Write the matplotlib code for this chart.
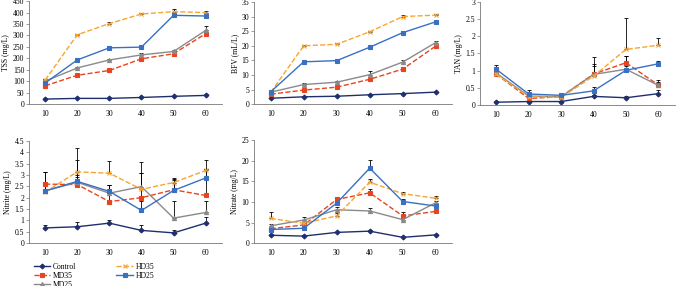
import matplotlib.pyplot as plt
import numpy as np

days = [10, 20, 30, 40, 50, 60]
groups = ["Control", "MD35", "MD25", "HD35", "HD25"]

# values, per group: Control, MD35, MD25, HD35, HD25
tss = [[22, 25, 25, 29, 34, 38],
       [80, 126, 147, 198, 220, 308],
       [100, 158, 193, 215, 230, 322],
       [105, 303, 352, 394, 404, 400],
       [92, 193, 246, 249, 388, 385]]
tss_err = [[3, 3, 3, 3, 3, 4],
           [5, 5, 5, 6, 6, 8],
           [8, 5, 5, 10, 6, 19],
           [5, 5, 5, 6, 11, 8],
           [5, 6, 7, 6, 6, 8]]

bfv = [[2.0, 2.5, 2.7, 3.2, 3.6, 4.1],
       [3.4, 4.8, 5.8, 8.5, 12.0, 19.9],
       [4.1, 6.7, 7.5, 10.1, 14.4, 21.1],
       [4.0, 20.0, 20.5, 24.8, 30.0, 30.5],
       [4.2, 14.5, 14.9, 19.5, 24.5, 28.2]]
bfv_err = [[0.2, 0.2, 0.2, 0.2, 0.2, 0.2],
           [0.3, 0.4, 0.4, 0.5, 0.6, 0.6],
           [0.4, 0.4, 0.4, 1.1, 0.6, 0.6],
           [0.3, 0.4, 0.4, 0.4, 0.6, 0.4],
           [0.3, 0.4, 0.4, 0.4, 0.4, 0.4]]

tan = [[0.08, 0.10, 0.10, 0.25, 0.21, 0.33],
       [0.90, 0.19, 0.24, 0.90, 1.23, 0.58],
       [0.93, 0.26, 0.24, 0.89, 1.04, 0.57],
       [0.90, 0.24, 0.22, 0.84, 1.62, 1.74],
       [1.04, 0.32, 0.28, 0.41, 1.01, 1.20]]
tan_err = [[0.04, 0.03, 0.03, 0.03, 0.04, 0.10],
           [0.10, 0.05, 0.05, 0.28, 0.20, 0.10],
           [0.10, 0.05, 0.05, 0.25, 0.10, 0.15],
           [0.10, 0.05, 0.05, 0.56, 0.91, 0.22],
           [0.11, 0.13, 0.06, 0.10, 0.42, 0.08]]

nitrite = [[0.67, 0.72, 0.88, 0.56, 0.45, 0.88],
           [2.60, 2.58, 1.83, 2.00, 2.35, 2.10],
           [2.30, 2.68, 2.20, 2.49, 1.10, 1.35],
           [2.25, 3.14, 3.08, 2.37, 2.67, 3.20],
           [2.30, 2.72, 2.28, 1.44, 2.32, 2.87]]
nitrite_err = [[0.13, 0.23, 0.12, 0.24, 0.13, 0.27],
               [0.52, 1.10, 0.74, 1.07, 0.45, 1.15],
               [0.82, 0.30, 0.37, 1.08, 0.75, 0.50],
               [0.30, 1.06, 0.52, 0.70, 0.18, 0.45],
               [0.25, 0.20, 0.30, 0.40, 0.50, 0.38]]

nitrate = [[1.9, 1.7, 2.6, 2.9, 1.4, 2.0],
           [3.5, 4.4, 10.6, 12.2, 6.6, 7.7],
           [4.2, 5.6, 8.1, 7.8, 5.7, 9.8],
           [6.0, 4.8, 6.6, 14.8, 12.0, 10.9],
           [3.3, 3.6, 9.7, 18.2, 10.1, 9.0]]
nitrate_err = [[0.2, 0.2, 0.2, 0.3, 0.2, 0.2],
               [0.4, 0.5, 0.5, 1.0, 0.9, 0.5],
               [0.4, 0.8, 0.6, 0.7, 0.4, 0.5],
               [1.5, 0.5, 0.6, 0.8, 0.5, 0.6],
               [0.4, 0.4, 0.5, 1.9, 0.5, 0.5]]

colors = ["#1f2f6e", "#e8451f", "#8a8a8a", "#f7a531", "#3a70c2"]
styles = ["-", "--", "-", "--", "-"]
markers = ["D", "s", "^", "x", "s"]
msizes = [2.5, 3, 3, 3.5, 2.5]

plt.rcParams['font.family'] = ['Liberation Serif', 'DejaVu Serif']
plt.rcParams['font.size'] = 5.5

fig = plt.figure(figsize=(6.76, 2.86), dpi=100)


def panel(rect, data, err, ylabel, ymax, ystep):
    ax = fig.add_axes(rect)
    lines = []
    for i in range(5):
        ax.errorbar(days, data[i], yerr=[np.zeros(6), err[i]], fmt='none',
                    ecolor='black', elinewidth=0.6, capsize=1.3, capthick=0.6, zorder=1)
        ln, = ax.plot(days, data[i], linestyle=styles[i], color=colors[i],
                      marker=markers[i], markersize=msizes[i], linewidth=1.0,
                      markeredgewidth=0.8, label=groups[i], zorder=2)
        lines.append(ln)
    ax.set_xlim(5, 65)
    ax.set_ylim(0, ymax)
    ax.set_xticks(days)
    ax.set_yticks(np.arange(0, ymax + ystep / 2, ystep))
    ax.set_yticklabels([("%g" % v) for v in np.arange(0, ymax + ystep / 2, ystep)])
    ax.set_ylabel(ylabel, fontsize=5.5, labelpad=2)
    for s in ["top", "right"]:
        ax.spines[s].set_visible(False)
    for s in ["left", "bottom"]:
        ax.spines[s].set_color("#777777")
        ax.spines[s].set_linewidth(0.6)
    ax.tick_params(axis='x', length=0, pad=4, labelsize=5.5)
    ax.tick_params(axis='y', length=2, width=0.5, color="#777777", pad=1.5, labelsize=5.5)
    return lines


lines = panel([0.043, 0.636, 0.285, 0.36], tss, tss_err, "TSS (mg/L)", 450, 50)
panel([0.376, 0.636, 0.293, 0.357], bfv, bfv_err, "BFV (mL/L)", 35, 5)
panel([0.710, 0.633, 0.288, 0.36], tan, tan_err, "TAN (mg/L)", 3, 0.5)
panel([0.043, 0.150, 0.285, 0.357], nitrite, nitrite_err, "Nitrite (mg/L)", 4.5, 0.5)
panel([0.376, 0.150, 0.293, 0.36], nitrate, nitrate_err, "Nitrate (mg/L)", 25, 5)

fig.legend(handles=lines, loc='upper left', bbox_to_anchor=(0.044, 0.095), ncol=2,
           frameon=False, fontsize=5.5, handlelength=2.2, columnspacing=5.3,
           labelspacing=0.15, handletextpad=0.3, borderpad=0)

fig.savefig("out.png", dpi=100)
